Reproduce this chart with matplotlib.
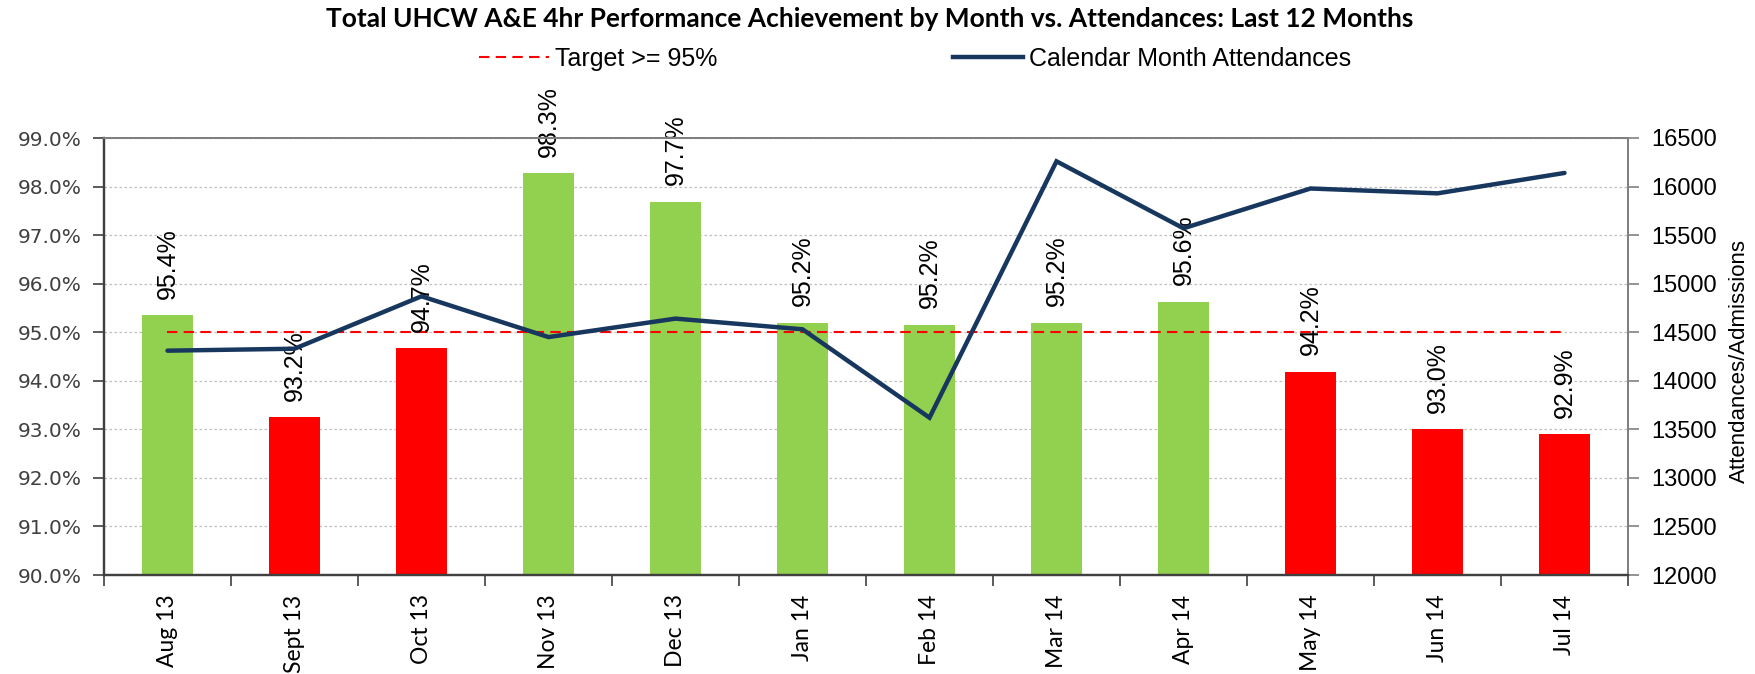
import matplotlib
matplotlib.use('Agg')
import matplotlib.pyplot as plt
from matplotlib.lines import Line2D
import numpy as np

months = ['Aug 13', 'Sept 13', 'Oct 13', 'Nov 13', 'Dec 13', 'Jan 14',
          'Feb 14', 'Mar 14', 'Apr 14', 'May 14', 'Jun 14', 'Jul 14']
performance = [95.35, 93.25, 94.67, 98.27, 97.68, 95.2, 95.15, 95.2, 95.63, 94.19, 93.0, 92.9]
perf_labels = ['95.4%', '93.2%', '94.7%', '98.3%', '97.7%', '95.2%',
               '95.2%', '95.2%', '95.6%', '94.2%', '93.0%', '92.9%']
attendances = [14310, 14330, 14870, 14450, 14640, 14530, 13620, 16260, 15570, 15980, 15930, 16140]
target = 95.0

left_ticks = [90, 91, 92, 93, 94, 95, 96, 97, 98, 99]
right_ticks = [12000, 12500, 13000, 13500, 14000, 14500, 15000, 15500, 16000, 16500]

GREEN = '#92D050'
RED = '#FF0000'
NAVY = '#17375E'
ARIAL = 'Liberation Sans'

W, H = 1756, 674
fig = plt.figure(figsize=(W / 100, H / 100), dpi=100)
fig.subplots_adjust(left=104 / W, right=1628 / W, top=1 - 138 / H, bottom=1 - 575 / H)
ax = fig.add_subplot(111)
ax2 = ax.twinx()

x = np.arange(len(months))
colors = [GREEN if v >= target else RED for v in performance]
ax.bar(x, [v - 90 for v in performance], bottom=90, width=0.4, color=colors, zorder=2)
ax.plot(x, [target] * len(x), color=RED, lw=1.5, ls=(0, (5, 3)), zorder=3)

for i, (v, lab) in enumerate(zip(performance, perf_labels)):
    ax.annotate(lab, (i, v), xytext=(0, 12), textcoords='offset points', rotation=90,
                ha='center', va='bottom', fontsize=18, family=ARIAL, zorder=4)

ax2.plot(x, attendances, color=NAVY, lw=3.2, solid_capstyle='round', solid_joinstyle='miter', zorder=5)

# left axis
ax.set_ylim(90, 99)
ax.set_yticks(left_ticks)
ax.set_yticklabels(['%.1f%%' % t for t in left_ticks], fontsize=14.5, family='DejaVu Sans', color='#404040')
ax.yaxis.grid(True, color='#BFBFBF', ls=(0, (2, 2)), lw=0.9, zorder=0)
ax.set_axisbelow(True)
ax.tick_params(axis='y', length=8, width=1.2, color='#404040', pad=8)

# x axis, ticks between categories
ax.set_xlim(-0.5, len(months) - 0.5)
ax.set_xticks(x)
ax.set_xticklabels(months, rotation=90, fontsize=16.5, family='Lato')
ax.set_xticks(np.arange(len(months) + 1) - 0.5, minor=True)
ax.tick_params(axis='x', which='major', length=0, pad=14)
ax.tick_params(axis='x', which='minor', length=8, width=1.2, color='#404040')

# right axis
ax2.set_ylim(12000, 16500)
ax2.set_yticks(right_ticks)
ax2.set_yticklabels([str(t) for t in right_ticks], fontsize=17, family=ARIAL)
ax2.tick_params(axis='y', length=8, width=1.2, color='#808080', pad=9)
ax2.set_ylabel('Attendances/Admissions', fontsize=16, family=ARIAL, va='center')
ax2.yaxis.set_label_coords((1739 - 104) / (1628 - 104), 0.49)

for a in (ax, ax2):
    a.spines['left'].set_color('#404040')
    a.spines['left'].set_linewidth(1.6)
    a.spines['bottom'].set_color('#404040')
    a.spines['bottom'].set_linewidth(1.6)
    a.spines['top'].set_color('#808080')
    a.spines['top'].set_linewidth(1.4)
    a.spines['right'].set_color('#808080')
    a.spines['right'].set_linewidth(1.4)

fig.text(0.495, 1 - 19 / H, 'Total UHCW A&E 4hr Performance Achievement by Month vs. Attendances: Last 12 Months',
         ha='center', va='center', fontsize=19, fontweight='bold', family='Lato')

handles = [Line2D([], [], color=RED, lw=1.5, ls=(0, (5, 3))),
           Line2D([], [], color=NAVY, lw=3.2)]
fig.legend(handles, ['Target >= 95%', 'Calendar Month Attendances'], loc='center',
           bbox_to_anchor=(915 / W, 1 - 59 / H), ncol=2, frameon=False,
           prop={'family': ARIAL, 'size': 18}, columnspacing=9.4, handlelength=2.8,
           handletextpad=0.25, borderpad=0)

fig.savefig('out.png', dpi=100)
